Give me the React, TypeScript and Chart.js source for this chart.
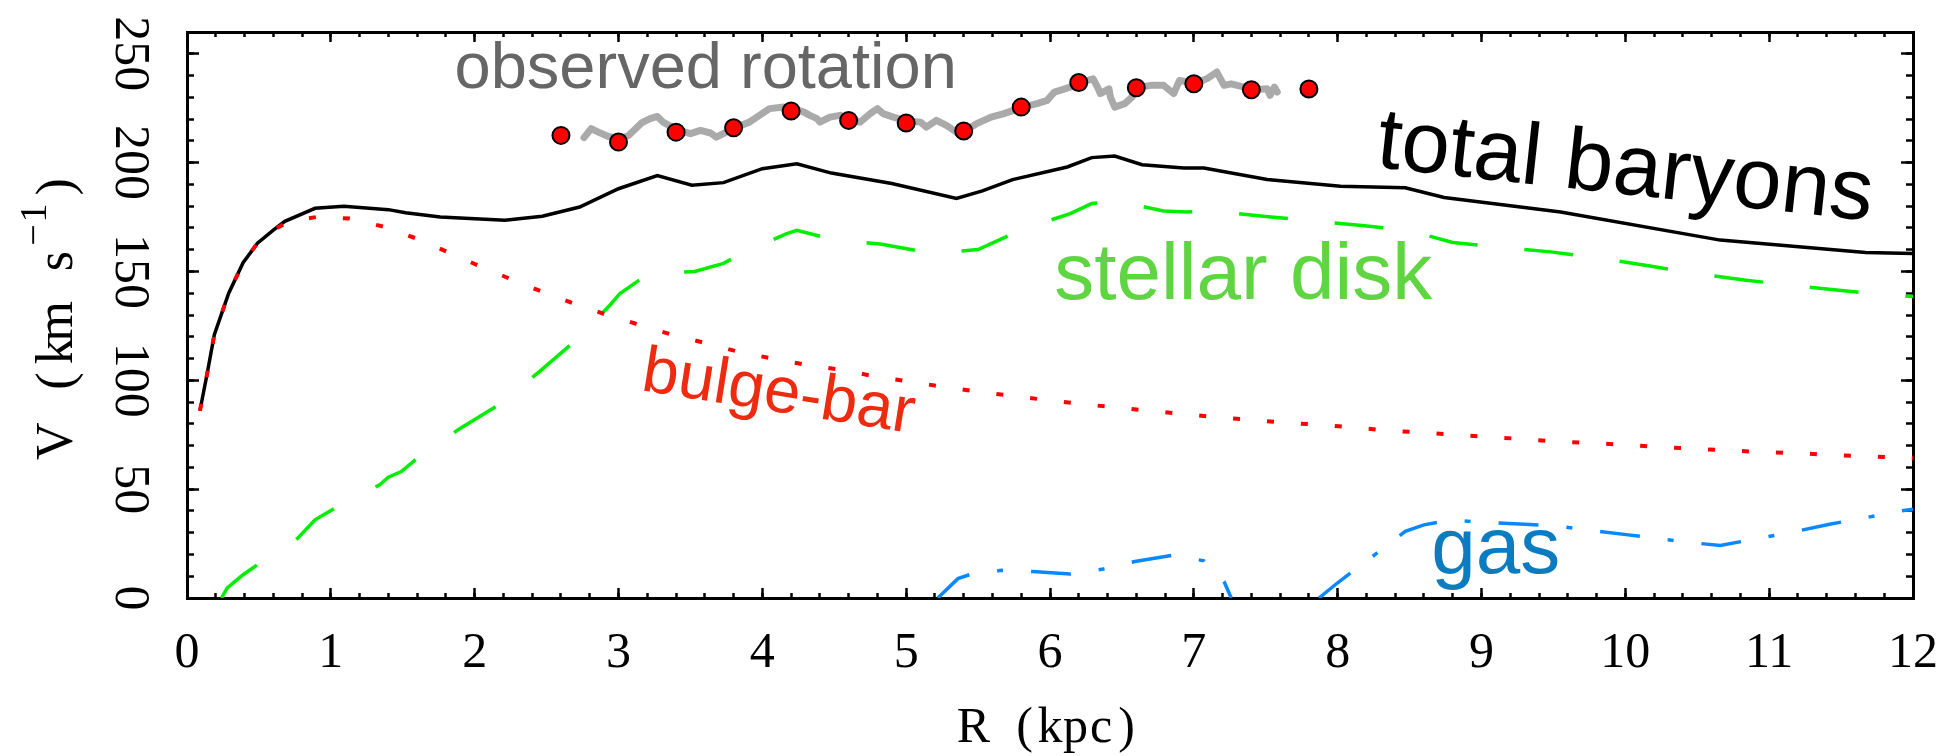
import React, { useEffect, useRef } from "react";
import { Chart, registerables } from "chart.js";

Chart.register(...registerables);

// ---------- data (R in kpc, V in km/s) ----------
const R_TOTAL = [0.09, 0.14, 0.19, 0.29, 0.39, 0.49, 0.6, 0.68, 0.89, 1.09, 1.4, 1.52, 1.76, 2.21, 2.47, 2.73, 3.0, 3.27, 3.51, 3.73, 4.0, 4.24, 4.48, 4.9, 5.35, 5.53, 5.74, 6.12, 6.29, 6.45, 6.64, 6.93, 7.07, 7.51, 8.02, 8.47, 8.74, 9.55, 10.66, 11.67, 12.0];
const V_TOTAL = [86, 103, 121, 140, 154, 163, 169, 173, 179, 180, 178.4, 177, 175, 173.5, 175.4, 179.6, 188, 194, 189.6, 190.8, 197.2, 199.5, 195.2, 190.4, 183.5, 187, 192.2, 198, 202.3, 203, 199, 197.5, 197.5, 192.2, 189.1, 188.4, 184, 177.3, 164.4, 158.7, 158.2];

const R_BULGE = [0.09, 0.14, 0.19, 0.29, 0.39, 0.49, 0.6, 0.71, 0.9, 1.13, 1.37, 1.6, 1.82, 2.03, 2.25, 2.48, 2.7, 2.92, 3.15, 3.38, 3.61, 3.84, 4.07, 4.31, 4.56, 4.79, 5.02, 5.26, 5.5, 5.74, 5.97, 6.22, 6.45, 6.68, 6.92, 7.17, 7.4, 7.63, 7.88, 8.12, 8.35, 8.6, 8.83, 9.07, 9.31, 9.55, 9.78, 10.02, 10.25, 10.5, 10.73, 10.98, 11.21, 11.45, 11.69, 11.93, 12.0];
const V_BULGE = [86, 103, 121, 140, 154, 163, 169, 173, 175, 174.3, 170.5, 165, 158.7, 152.6, 146.5, 140.4, 135, 130, 125.4, 120.8, 117, 113, 110, 107, 104.7, 101.7, 99.4, 97, 94.8, 92.8, 91, 89.1, 87.6, 86.1, 84.5, 83, 81.8, 80.6, 79.5, 78.3, 76.9, 76, 74.9, 73.9, 72.9, 71.8, 71.1, 70.3, 69.3, 68.5, 67.7, 67, 66.5, 65.6, 65, 64.4, 64.2];

const R_DISK = [0.24, 0.28, 0.39, 0.49, 0.77, 0.89, 1.03, 1.34, 1.4, 1.49, 1.61, 1.89, 2.19, 2.45, 2.71, 2.94, 3.01, 3.21, 3.53, 3.73, 3.86, 4.17, 4.24, 4.49, 4.83, 5.18, 5.5, 5.81, 6.14, 6.29, 6.47, 6.79, 6.95, 7.13, 7.48, 7.82, 8.15, 8.49, 8.8, 9.15, 9.48, 9.83, 10.16, 10.51, 10.84, 11.18, 11.52, 11.85, 12.0];
const V_DISK = [0, 4.6, 10.7, 15.3, 27.5, 35.9, 41.3, 52, 55.5, 58.1, 64.7, 77.5, 89.7, 104, 118.7, 134.5, 139.9, 149, 150, 153.7, 158.3, 167.4, 168.9, 164.7, 162.5, 158.3, 160.1, 169.3, 176.6, 181.2, 182.2, 177.8, 177.3, 177.8, 175.4, 173.2, 171.2, 168.9, 163.3, 161, 159, 156, 152.6, 148.8, 146, 143.4, 141.1, 139.1, 138.5];

const R_GAS = [5.22, 5.36, 5.44, 5.66, 5.88, 6.14, 6.37, 6.59, 6.85, 7.07, 7.21, 7.26, 7.5, 7.87, 8.0, 8.16, 8.34, 8.47, 8.6, 8.79, 9.02, 9.3, 9.51, 9.73, 10.02, 10.24, 10.45, 10.66, 10.93, 11.15, 11.42, 11.68, 11.88, 12.0];
const V_GAS = [0, 8.9, 10.7, 12.7, 12.2, 11, 13.3, 16.8, 19.6, 17.1, 7.6, 0, null, 0, 7, 15, 24, 30.6, 33.6, 35.9, 34.7, 33.9, 33.2, 31.3, 29, 27.2, 25.5, 24.1, 27.5, 30.1, 33.9, 37, 39.7, 40.8];

const R_OBS = [2.76, 2.81, 2.86, 2.93, 3.01, 3.07, 3.16, 3.22, 3.27, 3.31, 3.41, 3.5, 3.57, 3.64, 3.68, 3.75, 3.81, 3.91, 3.98, 4.05, 4.15, 4.21, 4.29, 4.33, 4.38, 4.4, 4.47, 4.54, 4.61, 4.68, 4.75, 4.8, 4.84, 4.91, 5.01, 5.1, 5.14, 5.21, 5.28, 5.35, 5.41, 5.49, 5.59, 5.68, 5.81, 5.91, 5.98, 6.03, 6.07, 6.14, 6.21, 6.3, 6.33, 6.35, 6.41, 6.42, 6.45, 6.52, 6.57, 6.61, 6.7, 6.79, 6.86, 6.9, 7.01, 7.09, 7.16, 7.21, 7.26, 7.35, 7.41, 7.51, 7.53, 7.56, 7.58];
const V_OBS = [211.5, 215.6, 214, 212, 211, 212.5, 218.2, 220.2, 221.2, 218.6, 215, 213.3, 214.8, 213.6, 211.7, 214, 216, 218.6, 221.7, 224.8, 225.5, 225, 223.2, 221.7, 220.2, 218.6, 220.9, 221.7, 220, 218.6, 222.5, 224.8, 222.5, 220.9, 219, 218.6, 216.3, 219.4, 217.1, 214, 214.5, 217.9, 220.9, 222.5, 225.5, 227.1, 228.6, 232.4, 233.2, 234.7, 237, 238.5, 234.7, 231.7, 233.9, 230.1, 225.5, 227.1, 230.1, 234.5, 235.5, 235.5, 231.7, 237.7, 236.5, 238.5, 241.6, 235.5, 236.2, 234.7, 233.5, 233.9, 230.9, 234.7, 232.4];

const R_DOTS = [2.6, 3.0, 3.4, 3.8, 4.2, 4.6, 5.0, 5.4, 5.8, 6.2, 6.6, 7.0, 7.4, 7.8];
const V_DOTS = [212.5, 209.5, 214, 216, 223.7, 219.4, 218.2, 214.5, 225.5, 236.8, 234.4, 236.2, 233.5, 233.8];

const X_TICK_LABELS = ["0", "1", "2", "3", "4", "5", "6", "7", "8", "9", "10", "11", "12"];
const Y_TICK_LABELS = ["0", "50", "100", "150", "200", "250"];
const X_TITLE = "R (kpc)";
const Y_TITLE_MAIN = "V (km s";
const Y_TITLE_SUP = "\u22121";
const Y_TITLE_END = ")";

const LABEL_TEXTS = ["observed rotation", "total baryons", "stellar disk", "bulge-bar", "gas"];
const LABEL_R = [1.86, 8.26, 6.03, 3.15, 8.65];
const LABEL_V = [234.5, 198.0, 137.3, 95.5, 11.7];

// ---------- styles ----------
const LABEL_SIZE = [65, 87, 80, 65, 80];
const LABEL_ANGLE = [0, 6.2, 0, 9, 0];
const LABEL_COLOR = ["#666666", "#000000", "#5fd641", "#ee2a10", "#0b7cc0"];
const SERIF = '"Liberation Serif", "Times New Roman", serif';
const SANS = '"Liberation Sans", Arial, Helvetica, sans-serif';
const TICK_SIZE = 50;
const X_TITLE_SIZE = 50;
const X_TITLE_PITCH = 25.5;
const Y_TITLE_SIZE = 52;
const Y_TITLE_PITCH = 30;

const pts = (xs: number[], ys: (number | null)[]) => xs.map((x, i) => ({ x, y: ys[i] }));

// draw text as a typewriter line: every character in a cell of fixed width
function drawPitched(ctx: CanvasRenderingContext2D, text: string, x0: number, y: number, pitch: number) {
  ctx.textAlign = "center";
  for (let i = 0; i < text.length; i++) {
    const ch = text[i];
    if (ch !== " ") ctx.fillText(ch, x0 + pitch * (i + 0.5), y);
  }
  return x0 + pitch * text.length;
}

const textPlugin = {
  id: "textPlugin",
  afterDatasetsDraw(chart: any) {
    const { ctx, scales } = chart;
    const xs = scales.x;
    const ys = scales.y;
    LABEL_TEXTS.forEach((t, i) => {
      const px = xs.getPixelForValue(LABEL_R[i]);
      const py = ys.getPixelForValue(LABEL_V[i]);
      ctx.save();
      ctx.translate(px, py);
      ctx.rotate((LABEL_ANGLE[i] * Math.PI) / 180);
      ctx.font = `${LABEL_SIZE[i]}px ${SANS}`;
      ctx.fillStyle = LABEL_COLOR[i];
      ctx.textAlign = "left";
      ctx.textBaseline = "alphabetic";
      ctx.fillText(t, 0, 0);
      ctx.restore();
    });
  },
  afterDraw(chart: any) {
    const { ctx, chartArea } = chart;
    // x axis title
    ctx.save();
    ctx.fillStyle = "#000";
    ctx.textBaseline = "middle";
    ctx.font = `${X_TITLE_SIZE}px ${SERIF}`;
    const xc = (chartArea.left + chartArea.right) / 2;
    drawPitched(ctx, X_TITLE, xc - (X_TITLE.length * X_TITLE_PITCH) / 2, 729, X_TITLE_PITCH);
    ctx.restore();

    // y axis title with superscript
    const cy = (chartArea.top + chartArea.bottom) / 2 - 1;
    const cx = 58;
    const supSize = Math.round(Y_TITLE_SIZE * 0.74);
    const supPitch = Y_TITLE_PITCH * 0.74;
    const total = (Y_TITLE_MAIN.length + Y_TITLE_END.length) * Y_TITLE_PITCH + Y_TITLE_SUP.length * supPitch;
    ctx.save();
    ctx.translate(cx, cy);
    ctx.rotate(-Math.PI / 2);
    ctx.fillStyle = "#000";
    ctx.textBaseline = "middle";
    let x = -total / 2;
    ctx.font = `${Y_TITLE_SIZE}px ${SERIF}`;
    x = drawPitched(ctx, Y_TITLE_MAIN, x, 0, Y_TITLE_PITCH);
    ctx.font = `${supSize}px ${SERIF}`;
    x = drawPitched(ctx, Y_TITLE_SUP, x, -Y_TITLE_SIZE * 0.42, supPitch);
    ctx.font = `${Y_TITLE_SIZE}px ${SERIF}`;
    drawPitched(ctx, Y_TITLE_END, x, 0, Y_TITLE_PITCH);
    ctx.restore();
  },
};

const tickFont = { family: SERIF, size: TICK_SIZE, lineHeight: 1 };

function minorAxis(position: string, step: number, len: number, isX: boolean, weight: number, min: number, max: number) {
  return {
    type: "linear",
    position,
    min,
    max,
    weight,
    ticks: { stepSize: step, autoSkip: false, display: false, includeBounds: false },
    grid: { drawOnChartArea: false, drawTicks: true, tickLength: -len, tickWidth: 2.5, tickColor: "#000" },
    border: { display: false },
    afterFit: (s: any) => {
      if (isX) s.height = 0;
      else s.width = 0;
      s.paddingLeft = 0;
      s.paddingRight = 0;
      s.paddingTop = 0;
      s.paddingBottom = 0;
    },
  };
}

export default function App() {
  const ref = useRef<HTMLCanvasElement | null>(null);
  useEffect(() => {
    if (!ref.current) return;
    const chart = new Chart(ref.current, {
      type: "line",
      data: {
        datasets: [
          {
            label: "dots",
            data: pts(R_DOTS, V_DOTS),
            showLine: false,
            pointRadius: 8.5,
            pointBorderWidth: 2,
            pointBackgroundColor: "#ff0000",
            pointBorderColor: "#000000",
            xAxisID: "x",
            yAxisID: "y",
          },
          {
            label: "observed",
            data: pts(R_OBS, V_OBS),
            borderColor: "#aaaaaa",
            borderWidth: 7,
            pointRadius: 0,
            borderJoinStyle: "round",
            borderCapStyle: "round",
            xAxisID: "x",
            yAxisID: "y",
          },
          {
            label: "bulge-bar",
            data: pts(R_BULGE, V_BULGE),
            borderColor: "#ff0000",
            borderWidth: 4,
            borderDash: [7, 27],
            pointRadius: 0,
            xAxisID: "x",
            yAxisID: "y",
          },
          {
            label: "total",
            data: pts(R_TOTAL, V_TOTAL),
            borderColor: "#000000",
            borderWidth: 3.5,
            pointRadius: 0,
            xAxisID: "x",
            yAxisID: "y",
          },
          {
            label: "disk",
            data: pts(R_DISK, V_DISK),
            borderColor: "#00ee00",
            borderWidth: 3.5,
            borderDash: [49, 47],
            pointRadius: 0,
            xAxisID: "x",
            yAxisID: "y",
          },
          {
            label: "gas",
            data: pts(R_GAS, V_GAS),
            borderColor: "#0a88ff",
            borderWidth: 3.5,
            borderDash: [40, 28, 6, 28],
            pointRadius: 0,
            spanGaps: false,
            xAxisID: "x",
            yAxisID: "y",
          },
        ],
      },
      options: {
        animation: false,
        responsive: false,
        devicePixelRatio: 1,
        elements: { line: { tension: 0 } },
        layout: { padding: { top: 32, right: 39, left: 0, bottom: 0 }, autoPadding: false },
        plugins: { legend: { display: false }, tooltip: { enabled: false }, title: { display: false } },
        scales: {
          x: {
            type: "linear",
            position: "bottom",
            min: 0,
            max: 12,
            weight: 1,
            ticks: {
              stepSize: 1,
              autoSkip: false,
              includeBounds: false,
              minRotation: 0,
              maxRotation: 0,
              padding: 41,
              font: tickFont,
              color: "#000",
              callback: (v: any) => X_TICK_LABELS[Math.round(Number(v))] ?? "",
            },
            grid: { drawOnChartArea: false, drawTicks: true, tickLength: -10, tickWidth: 2.5, tickColor: "#000" },
            border: { display: true, width: 3, color: "#000" },
            title: { display: false },
            afterFit: (s: any) => {
              s.height = 158;
              s.paddingLeft = 0;
              s.paddingRight = 0;
            },
          },
          xMinor: minorAxis("bottom", 0.2, 5, true, 0, 0, 12),
          xTop: {
            type: "linear",
            position: "top",
            min: 0,
            max: 12,
            weight: 1,
            ticks: { stepSize: 1, autoSkip: false, display: false },
            grid: { drawOnChartArea: false, drawTicks: true, tickLength: -10, tickWidth: 2.5, tickColor: "#000" },
            border: { display: true, width: 3, color: "#000" },
            afterFit: (s: any) => {
              s.height = 0;
              s.paddingLeft = 0;
              s.paddingRight = 0;
            },
          },
          xTopMinor: minorAxis("top", 0.2, 5, true, 0, 0, 12),
          y: {
            type: "linear",
            position: "left",
            min: 0,
            max: 260,
            weight: 1,
            ticks: {
              stepSize: 50,
              autoSkip: false,
              includeBounds: false,
              minRotation: -90,
              maxRotation: -90,
              crossAlign: "center",
              padding: 32.5,
              font: tickFont,
              color: "#000",
              callback: (v: any) => Y_TICK_LABELS[Math.round(Number(v) / 50)] ?? "",
            },
            grid: { drawOnChartArea: false, drawTicks: true, tickLength: -12, tickWidth: 2.5, tickColor: "#000" },
            border: { display: true, width: 3, color: "#000" },
            afterFit: (s: any) => {
              s.width = 187;
              s.paddingTop = 0;
              s.paddingBottom = 0;
            },
          },
          yMinor: minorAxis("left", 10, 7, false, 0, 0, 260),
          yRight: {
            type: "linear",
            position: "right",
            min: 0,
            max: 260,
            weight: 1,
            ticks: { stepSize: 50, autoSkip: false, display: false, includeBounds: false },
            grid: { drawOnChartArea: false, drawTicks: true, tickLength: -12, tickWidth: 2.5, tickColor: "#000" },
            border: { display: true, width: 3, color: "#000" },
            afterFit: (s: any) => {
              s.width = 0;
              s.paddingTop = 0;
              s.paddingBottom = 0;
            },
          },
          yRightMinor: minorAxis("right", 10, 7, false, 0, 0, 260),
        },
      } as any,
      plugins: [textPlugin],
    });
    return () => chart.destroy();
  }, []);
  return (
    <div style={{ position: "fixed", left: 0, top: 0, width: 1952, height: 756, background: "#fff" }}>
      <canvas ref={ref} width={1952} height={756} style={{ display: "block" }} />
    </div>
  );
}
